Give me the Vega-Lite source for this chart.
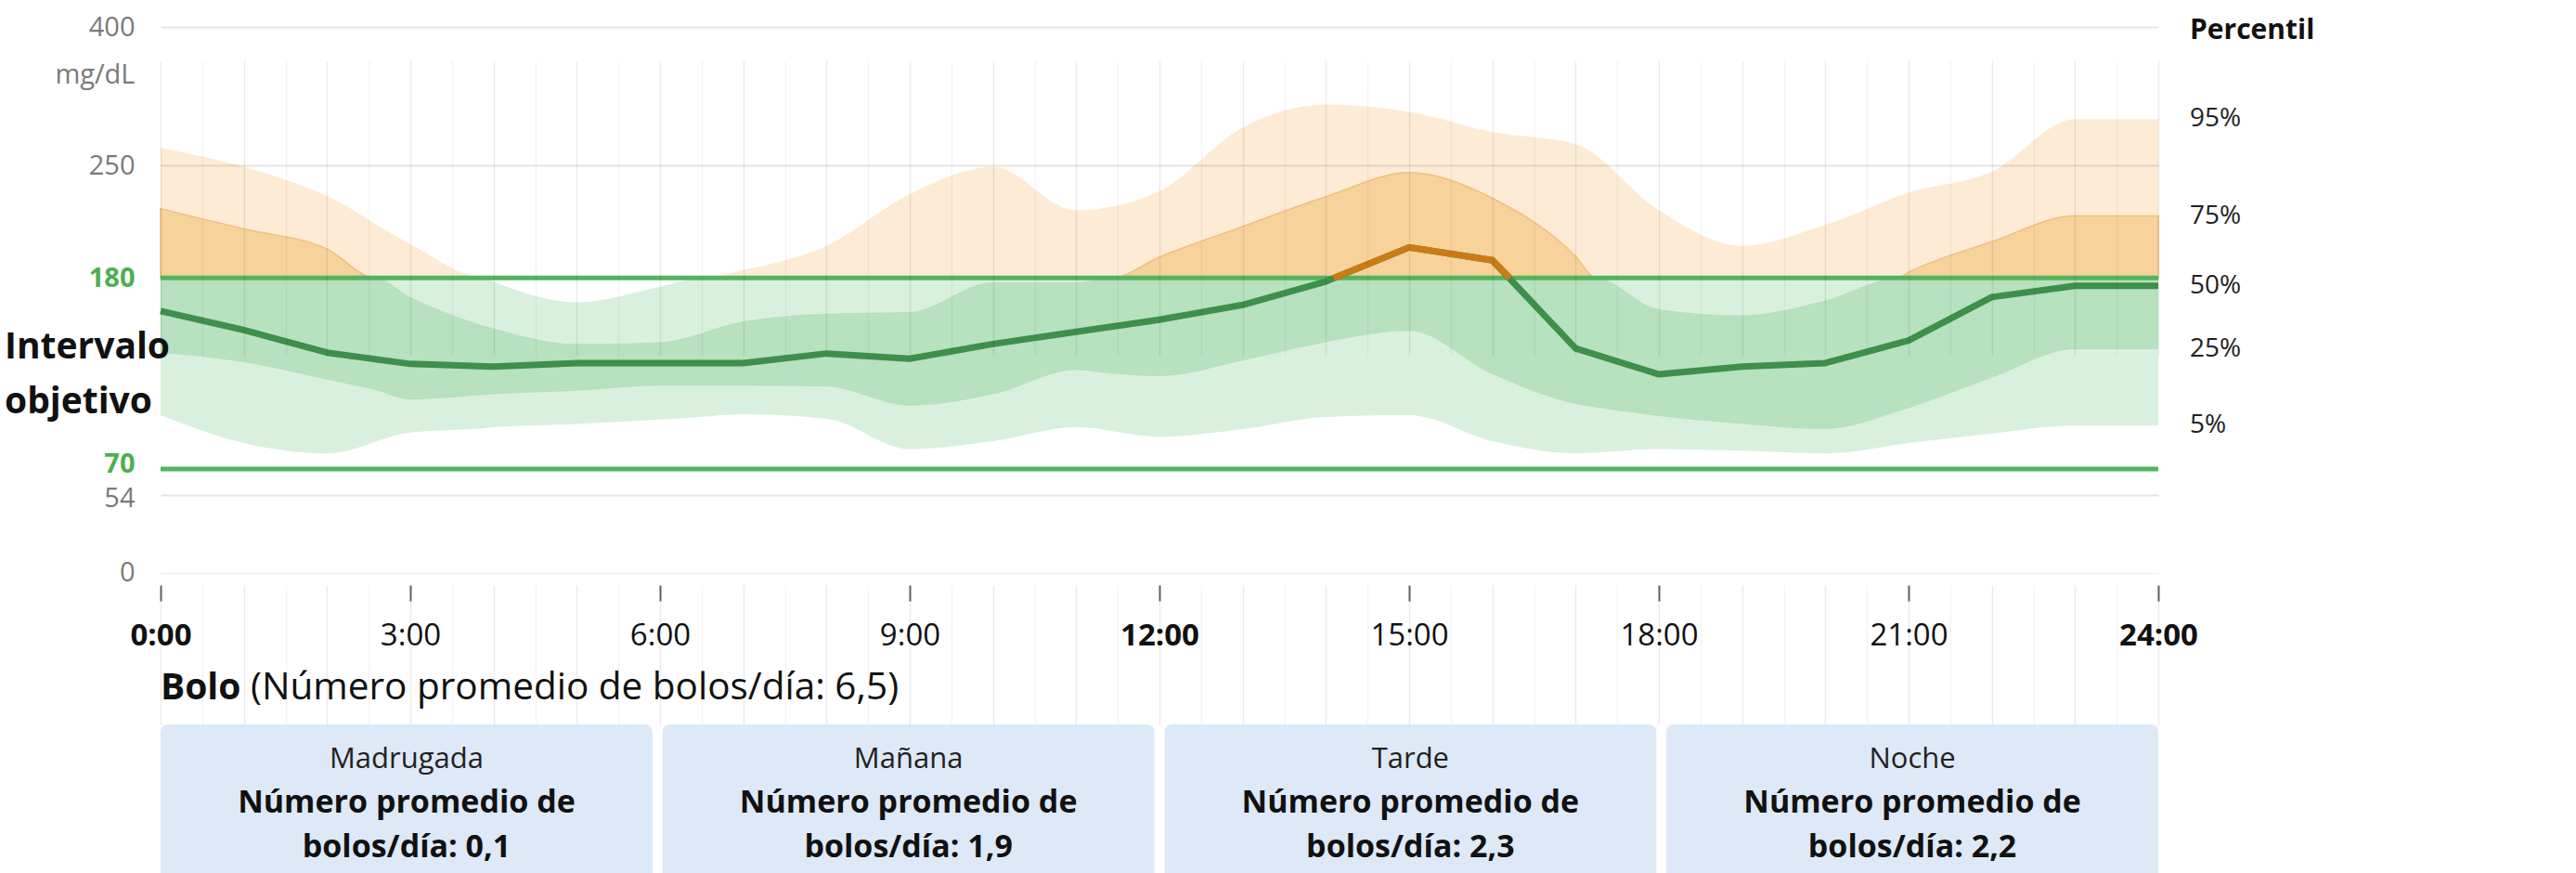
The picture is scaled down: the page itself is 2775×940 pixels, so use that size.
{
  "$schema": "https://vega.github.io/schema/vega-lite/v6.json",
  "padding": {"left": 5, "top": 15, "right": 0, "bottom": 0},
  "background": "white",
  "bounds": "flush",
  "spacing": 0,
  "config": {"view": {"stroke": null}, "font": "Open Sans"},
  "datasets": {
    "banda_5_95": [
      {"hora": 0, "p5": 101, "p95": 269},
      {"hora": 1, "p5": 85, "p95": 249},
      {"hora": 2, "p5": 79, "p95": 231},
      {"hora": 3, "p5": 91, "p95": 201},
      {"hora": 3.9, "p5": 93.5, "p95": 180},
      {"hora": 4, "p5": 94, "p95": 178},
      {"hora": 5, "p5": 96, "p95": 166},
      {"hora": 6, "p5": 98.5, "p95": 175},
      {"hora": 6.5, "p5": 100, "p95": 180},
      {"hora": 7, "p5": 101.5, "p95": 185},
      {"hora": 8, "p5": 99, "p95": 200},
      {"hora": 9, "p5": 81.5, "p95": 232},
      {"hora": 10, "p5": 86, "p95": 249},
      {"hora": 11, "p5": 94, "p95": 222},
      {"hora": 12, "p5": 88.5, "p95": 234},
      {"hora": 13, "p5": 93, "p95": 291},
      {"hora": 14, "p5": 100, "p95": 316},
      {"hora": 15, "p5": 101, "p95": 308},
      {"hora": 16, "p5": 86, "p95": 286},
      {"hora": 17, "p5": 79, "p95": 273},
      {"hora": 18, "p5": 81.5, "p95": 222},
      {"hora": 19, "p5": 80.5, "p95": 200},
      {"hora": 20, "p5": 79, "p95": 213},
      {"hora": 21, "p5": 85, "p95": 233},
      {"hora": 22, "p5": 90.5, "p95": 246},
      {"hora": 23, "p5": 95, "p95": 300},
      {"hora": 24, "p5": 95, "p95": 300}
    ],
    "banda_25_75": [
      {"hora": 0, "p25": 137, "p75": 223},
      {"hora": 1, "p25": 131.5, "p75": 210.5},
      {"hora": 2, "p25": 121.5, "p75": 198},
      {"hora": 2.58, "p25": 115.5, "p75": 180},
      {"hora": 3, "p25": 110, "p75": 169},
      {"hora": 4, "p25": 113, "p75": 151},
      {"hora": 5, "p25": 115, "p75": 142},
      {"hora": 6, "p25": 118, "p75": 143},
      {"hora": 7, "p25": 118, "p75": 155},
      {"hora": 8, "p25": 117.5, "p75": 159.5},
      {"hora": 9, "p25": 106.5, "p75": 160.5},
      {"hora": 10, "p25": 113, "p75": 177.5},
      {"hora": 11, "p25": 127, "p75": 177.5},
      {"hora": 11.42, "p25": 125, "p75": 180},
      {"hora": 12, "p25": 123.5, "p75": 193},
      {"hora": 13, "p25": 132.5, "p75": 212},
      {"hora": 14, "p25": 143, "p75": 230.5},
      {"hora": 15, "p25": 149.5, "p75": 245.5},
      {"hora": 16, "p25": 124.5, "p75": 229.5},
      {"hora": 17, "p25": 107.5, "p75": 193.5},
      {"hora": 17.24, "p25": 105.5, "p75": 180},
      {"hora": 18, "p25": 100.5, "p75": 162},
      {"hora": 19, "p25": 96, "p75": 158.5},
      {"hora": 20, "p25": 93, "p75": 167},
      {"hora": 20.87, "p25": 103, "p75": 180},
      {"hora": 21, "p25": 105, "p75": 183.5},
      {"hora": 22, "p25": 122.5, "p75": 202.5},
      {"hora": 23, "p25": 139, "p75": 218.5},
      {"hora": 24, "p25": 139, "p75": 218.5}
    ],
    "mediana": [
      {"hora": 0, "valor": 161}, {"hora": 1, "valor": 150}, {"hora": 2, "valor": 137},
      {"hora": 3, "valor": 130.5}, {"hora": 4, "valor": 129}, {"hora": 5, "valor": 131},
      {"hora": 6, "valor": 131}, {"hora": 7, "valor": 131}, {"hora": 8, "valor": 136.5},
      {"hora": 9, "valor": 133.5}, {"hora": 10, "valor": 142}, {"hora": 11, "valor": 149},
      {"hora": 12, "valor": 156}, {"hora": 13, "valor": 164.5}, {"hora": 14, "valor": 178},
      {"hora": 15, "valor": 199}, {"hora": 16, "valor": 191}, {"hora": 17, "valor": 139.5},
      {"hora": 18, "valor": 124.5}, {"hora": 19, "valor": 129}, {"hora": 20, "valor": 131},
      {"hora": 21, "valor": 144}, {"hora": 22, "valor": 169}, {"hora": 23, "valor": 175.5},
      {"hora": 24, "valor": 175.5}
    ],
    "mediana_alta": [
      {"hora": 14.095, "valor": 180}, {"hora": 15, "valor": 199},
      {"hora": 16, "valor": 191}, {"hora": 16.21, "valor": 180}
    ],
    "objetivo": [{"limite": 70}, {"limite": 180}],
    "percentiles": [
      {"hora": 24, "etiqueta": "95%", "valor": 300},
      {"hora": 24, "etiqueta": "75%", "valor": 218.5},
      {"hora": 24, "etiqueta": "50%", "valor": 175.5},
      {"hora": 24, "etiqueta": "25%", "valor": 139},
      {"hora": 24, "etiqueta": "5%", "valor": 95}
    ],
    "titulo_percentil": [{"hora": 24, "texto": "Percentil", "valor": 400}],
    "titulo_objetivo": [{"hora": 0, "texto": ["Intervalo", "objetivo"], "valor": 125}],
    "encabezado": [{"hora": 0, "negrita": "Bolo", "resto": "(Número promedio de bolos/día: 6,5)"}],
    "bolos": [
      {"periodo": "Madrugada", "resumen": ["Número promedio de", "bolos/día: 0,1"]},
      {"periodo": "Mañana", "resumen": ["Número promedio de", "bolos/día: 1,9"]},
      {"periodo": "Tarde", "resumen": ["Número promedio de", "bolos/día: 2,3"]},
      {"periodo": "Noche", "resumen": ["Número promedio de", "bolos/día: 2,2"]}
    ]
  },
  "vconcat": [
    {
      "width": 2152,
      "height": 578,
      "encoding": {
        "x": {
          "field": "hora",
          "type": "quantitative",
          "scale": {"domain": [0, 24], "nice": false, "zero": false},
          "axis": {
            "title": null,
            "orient": "bottom",
            "zindex": 1,
            "values": [0,0.5,1,1.5,2,2.5,3,3.5,4,4.5,5,5.5,6,6.5,7,7.5,8,8.5,9,9.5,10,10.5,11,11.5,12,12.5,13,13.5,14,14.5,15,15.5,16,16.5,17,17.5,18,18.5,19,19.5,20,20.5,21,21.5,22,22.5,23,23.5,24],
            "domain": false,
            "grid": true,
            "gridColor": "#000000",
            "gridWidth": 1.5,
            "gridOpacity": {"condition": {"test": "datum.value % 1 === 0", "value": 0.08}, "value": 0.045},
            "ticks": true,
            "tickSize": 17,
            "tickWidth": 2,
            "tickColor": "#666666",
            "tickOpacity": {"condition": {"test": "datum.value % 3 === 0", "value": 1}, "value": 0},
            "labelExpr": "datum.value % 3 === 0 ? datum.value + ':00' : ''",
            "labelFontSize": 33,
            "labelColor": "#111111",
            "labelFontWeight": {"condition": {"test": "datum.value % 12 === 0", "value": "bold"}, "value": "normal"},
            "labelPadding": 21,
            "labelOverlap": false,
            "labelFlush": false
          }
        }
      },
      "layer": [
        {
          "encoding": {
            "y": {"type": "quantitative", "axis": null,
              "scale": {"domain": [0, 54, 70, 180], "range": [564.5, 480.7, 453, 247.3], "clamp": true, "nice": false, "zero": false}}
          },
          "layer": [
            {
              "data": {"name": "banda_5_95"},
              "mark": {"type": "area", "interpolate": "monotone", "color": "#daf0de"},
              "encoding": {"y": {"field": "p95", "type": "quantitative"}, "y2": {"field": "p5"}}
            },
            {
              "data": {"name": "banda_25_75"},
              "mark": {"type": "area", "interpolate": "monotone", "color": "#b7e1bf"},
              "encoding": {"y": {"field": "p75", "type": "quantitative"}, "y2": {"field": "p25"}}
            }
          ]
        },
        {
          "encoding": {
            "y": {"type": "quantitative", "axis": null,
              "scale": {"domain": [180, 250, 400], "range": [247.3, 126, -23], "clamp": true, "nice": false, "zero": false}}
          },
          "layer": [
            {
              "data": {"name": "banda_5_95"},
              "mark": {"type": "area", "interpolate": "monotone", "color": "#fdebd6"},
              "encoding": {"y": {"field": "p95", "type": "quantitative"}, "y2": {"field": "p5"}}
            },
            {
              "data": {"name": "banda_25_75"},
              "mark": {"type": "area", "interpolate": "monotone", "color": "#f7d29b", "stroke": "#efc07f", "strokeWidth": 1.5},
              "encoding": {"y": {"field": "p75", "type": "quantitative"}, "y2": {"field": "p25"}}
            }
          ]
        },
        {
          "layer": [
            {
              "data": {"name": "objetivo"},
              "mark": {"type": "rule", "color": "#52b55e", "strokeWidth": 5},
              "encoding": {
                "x": null,
                "y": {
                  "field": "limite",
                  "type": "quantitative",
                  "scale": {"domain": [0, 54, 70, 180, 250, 400], "range": [564.5, 480.7, 453, 247.3, 126, -23], "nice": false, "zero": false},
                  "axis": {
                    "orient": "left",
                    "zindex": 1,
                    "values": [0, 54, 70, 180, 250, 400],
                    "domain": false,
                    "ticks": false,
                    "grid": true,
                    "gridWidth": 2,
                    "gridColor": {"condition": {"test": "datum.value === 0", "value": "#8c8c8c"}, "value": "#000000"},
                    "gridOpacity": {"condition": {"test": "datum.value === 70 || datum.value === 180", "value": 0}, "value": 0.1},
                    "labelPadding": 28,
                    "labelFontSize": 29,
                    "labelOverlap": false,
                    "labelOffset": {"condition": [{"test": "datum.value === 70", "value": -6}, {"test": "datum.value === 54", "value": 4}], "value": 0},
                    "labelColor": {"condition": {"test": "datum.value === 70 || datum.value === 180", "value": "#4caf50"}, "value": "#7a7a7a"},
                    "labelFontWeight": {"condition": {"test": "datum.value === 70 || datum.value === 180", "value": "bold"}, "value": "normal"},
                    "title": "mg/dL",
                    "titleAngle": 0,
                    "titleAlign": "right",
                    "titleBaseline": "middle",
                    "titleX": -28,
                    "titleY": 28,
                    "titleFontSize": 29,
                    "titleFontWeight": "normal",
                    "titleColor": "#7a7a7a"
                  }
                }
              }
            },
            {
              "data": {"name": "mediana"},
              "mark": {"type": "line", "color": "#3e8f4c", "strokeWidth": 7, "strokeJoin": "round"},
              "encoding": {"y": {"field": "valor", "type": "quantitative"}}
            },
            {
              "data": {"name": "mediana_alta"},
              "mark": {"type": "line", "color": "#cc7a14", "strokeWidth": 7, "strokeJoin": "round"},
              "encoding": {"y": {"field": "valor", "type": "quantitative"}}
            },
            {
              "data": {"name": "percentiles"},
              "mark": {"type": "text", "align": "left", "baseline": "middle", "dx": 34, "fontSize": 28, "color": "#222222"},
              "encoding": {
                "y": {"field": "valor", "type": "quantitative"},
                "text": {"field": "etiqueta"}
              }
            },
            {
              "data": {"name": "titulo_percentil"},
              "mark": {"type": "text", "align": "left", "baseline": "middle", "dx": 34, "dy": 4, "fontSize": 30, "fontWeight": "bold", "color": "#111111"},
              "encoding": {
                "y": {"field": "valor", "type": "quantitative"},
                "text": {"field": "texto"}
              }
            },
            {
              "data": {"name": "titulo_objetivo"},
              "mark": {"type": "text", "align": "left", "baseline": "middle", "dx": -168, "dy": -28, "fontSize": 39, "fontWeight": "bold", "lineHeight": 59, "color": "#111111"},
              "encoding": {
                "y": {"field": "valor", "type": "quantitative"},
                "text": {"field": "texto"}
              }
            }
          ]
        }
      ],
      "resolve": {"scale": {"y": "independent"}}
    },
    {
      "width": 2152,
      "height": 150,
      "data": {"name": "encabezado"},
      "encoding": {
        "x": {
          "field": "hora",
          "type": "quantitative",
          "scale": {"domain": [0, 24], "nice": false, "zero": false},
          "axis": {
            "title": null,
            "orient": "bottom",
            "values": [0,0.5,1,1.5,2,2.5,3,3.5,4,4.5,5,5.5,6,6.5,7,7.5,8,8.5,9,9.5,10,10.5,11,11.5,12,12.5,13,13.5,14,14.5,15,15.5,16,16.5,17,17.5,18,18.5,19,19.5,20,20.5,21,21.5,22,22.5,23,23.5,24],
            "domain": false,
            "ticks": false,
            "labels": false,
            "grid": true,
            "gridColor": "#000000",
            "gridWidth": 1.5,
            "gridOpacity": {"condition": {"test": "datum.value % 1 === 0", "value": 0.08}, "value": 0.045}
          }
        }
      },
      "layer": [
        {
          "mark": {"type": "text", "align": "left", "baseline": "middle", "fontSize": 39, "fontWeight": "bold", "dy": 36, "color": "#111111"},
          "encoding": {"text": {"field": "negrita"}}
        },
        {
          "mark": {"type": "text", "align": "left", "baseline": "middle", "fontSize": 40.5, "dx": 97, "dy": 36, "color": "#111111"},
          "encoding": {"text": {"field": "resto"}}
        }
      ]
    },
    {
      "width": 2152,
      "height": 170,
      "data": {"name": "bolos"},
      "encoding": {
        "x": {
          "field": "periodo",
          "type": "nominal",
          "scale": {"domain": ["Madrugada", "Mañana", "Tarde", "Noche"], "paddingInner": 0.02, "paddingOuter": 0},
          "axis": null
        }
      },
      "layer": [
        {
          "mark": {"type": "rect", "color": "#dde9f7", "cornerRadius": 8}
        },
        {
          "mark": {"type": "text", "fontSize": 31, "dy": -47, "baseline": "middle", "color": "#222222"},
          "encoding": {"text": {"field": "periodo"}}
        },
        {
          "mark": {"type": "text", "fontSize": 34, "fontWeight": "bold", "lineHeight": 48, "baseline": "middle", "color": "#111111"},
          "encoding": {"text": {"field": "resumen"}}
        }
      ]
    }
  ]
}
